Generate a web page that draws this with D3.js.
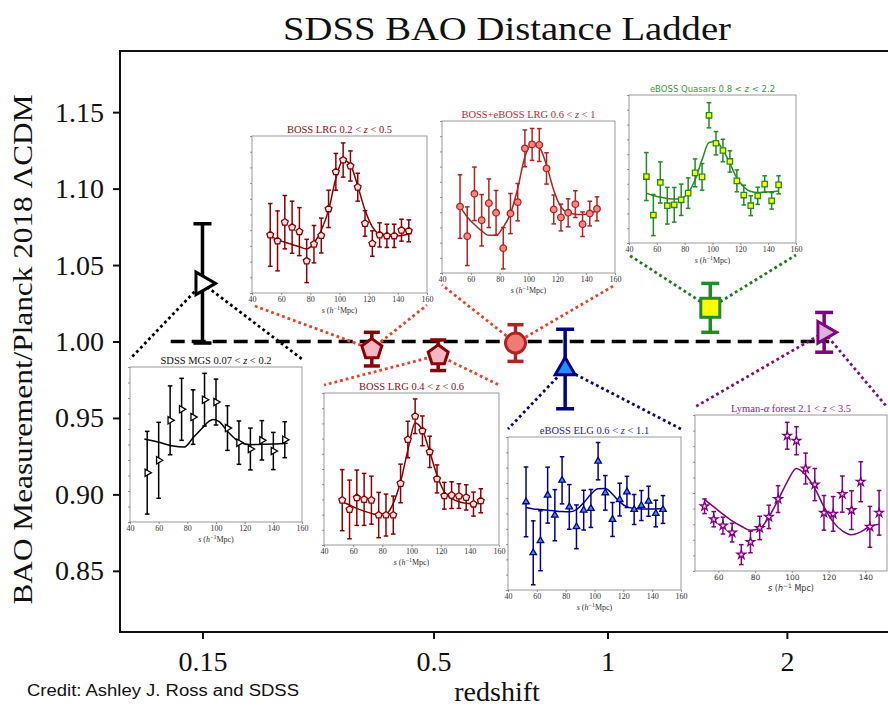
<!DOCTYPE html>
<html>
<head>
<meta charset="UTF-8">
<script src="https://d3js.org/d3.v7.min.js"></script>
<style>
  body { margin: 0; background: #fff; }
  svg { display: block; }
  .main-axis text { font-family: "Liberation Serif", serif; font-size: 28px; fill: #111; }
  .main-axis line { stroke: #111; stroke-width: 2; }
  .main-axis path { display: none; }
  .inset-axis text { font-family: "Liberation Serif", serif; font-size: 8px; fill: #333; }
  .inset-axis line { stroke: #777; stroke-width: 0.8; }
  .inset-axis path { display: none; }
</style>
</head>
<body>
<svg id="chart" width="888" height="709"></svg>
<script>
// ---- main ladder points ----
const surveys  = ["SDSS MGS", "BOSS LRG", "BOSS LRG", "BOSS+eBOSS LRG", "eBOSS ELG", "eBOSS Quasars", "Lyman-alpha"];
const zEff     = [0.15, 0.38, 0.51, 0.70, 0.85, 1.48, 2.33];
const baoRatio = [1.038, 0.995, 0.991, 0.999, 0.982, 1.022, 1.006];
const baoErr   = [0.039, 0.011, 0.010, 0.012, 0.026, 0.016, 0.013];
const yTicks   = [0.85, 0.90, 0.95, 1.00, 1.05, 1.10, 1.15];
const zTicks   = [0.15, 0.5, 1, 2];
const zTickLabels = ["0.15", "0.5", "1", "2"];
const refLineZ = [0.12, 2.38];

// ---- inset correlation functions (s^2 xi, arbitrary units) ----
const sBins = [52.5, 57.5, 62.5, 67.5, 72.5, 77.5, 82.5, 87.5, 92.5, 97.5, 102.5, 107.5, 112.5, 117.5, 122.5, 127.5, 132.5, 137.5, 142.5, 147.5];
const mgsS = [52, 60, 68, 76, 84, 92, 100, 108, 116, 124, 132, 140, 148];
const mgsModelS = [50, 60, 70, 78, 84, 90, 95, 98, 102, 108, 116, 124, 132, 140, 150];

const lrgLowXi    = [37.0, 33.2, 45.1, 41.9, 39.1, 20.4, 31.1, 36.6, 53.6, 77.2, 84.7, 80.9, 67.4, 44.3, 31.5, 37.0, 36.4, 36.4, 40.0, 39.6];
const lrgLowErr   = [20.0, 19.1, 17.0, 16.6, 15.3, 13.8, 11.9, 11.1, 11.9, 11.7, 10.9, 9.6, 8.9, 8.1, 8.1, 7.7, 7.4, 7.4, 7.0, 7.0];
const lrgLowModel = [36.2, 34.0, 32.3, 30.9, 29.4, 28.1, 31.9, 40.0, 52.8, 73.0, 84.7, 81.5, 68.1, 52.8, 42.1, 37.4, 36.2, 36.2, 36.6, 37.4];

const lrgMidXi    = [29.5, 23.4, 31.1, 30.0, 29.5, 19.7, 19.7, 19.7, 40.5, 69.4, 84.7, 75.1, 61.3, 43.5, 32.4, 32.8, 32.2, 31.3, 26.9, 29.1];
const lrgMidErr   = [20.1, 19.3, 18.2, 17.1, 15.8, 14.9, 13.8, 12.5, 12.7, 12.0, 11.4, 9.8, 10.3, 9.2, 8.8, 8.8, 8.1, 8.3, 7.9, 7.9];
const lrgMidModel = [28.4, 26.3, 24.1, 22.3, 20.8, 19.7, 20.4, 27.4, 41.6, 62.4, 80.3, 75.5, 61.3, 45.9, 35.0, 30.6, 28.4, 27.4, 26.9, 27.4];

const lrgHighXi    = [43.7, 24.2, 52.1, 34.7, 45.9, 39.6, 16.3, 39.1, 46.6, 82.0, 84.6, 84.2, 68.8, 41.8, 36.5, 39.6, 45.3, 32.1, 39.1, 42.2];
const lrgHighErr   = [20.9, 19.3, 17.6, 16.9, 16.0, 14.7, 13.6, 13.2, 12.3, 12.1, 10.5, 10.8, 10.3, 9.5, 8.8, 9.2, 8.8, 8.1, 8.1, 7.9];
const lrgHighModel = [43.7, 36.9, 31.9, 27.7, 24.8, 24.8, 30.3, 39.1, 55.6, 76.5, 84.6, 82.6, 71.0, 54.5, 43.5, 39.6, 38.7, 38.5, 39.1, 41.3];

const qsoXi    = [44.9, 18.9, 40.9, 25.2, 25.8, 29.2, 33.7, 47.4, 44.7, 86.3, 67.4, 62.5, 55.1, 42.0, 32.4, 25.2, 31.9, 39.8, 28.5, 39.3];
const qsoErr   = [16.2, 13.9, 13.9, 12.4, 11.7, 10.6, 10.3, 9.4, 9.0, 8.5, 7.9, 7.6, 7.2, 7.4, 6.7, 6.7, 5.8, 5.6, 5.6, 6.1];
const qsoModel = [33.7, 32.1, 31.0, 30.1, 29.7, 30.3, 33.7, 42.7, 56.2, 67.9, 68.5, 62.9, 53.9, 43.8, 37.8, 34.8, 34.2, 34.4, 34.6, 35.1];

const mgsXi    = [31.8, 39.8, 65.6, 72.7, 67.7, 78.9, 77.4, 60.6, 51.2, 47.1, 52.7, 45.8, 53.1];
const mgsErr   = [26.7, 24.5, 22.2, 20.0, 17.6, 17.0, 14.8, 14.4, 14.0, 13.5, 12.7, 12.0, 11.6];
const mgsModel = [53.5, 51.4, 49.0, 48.4, 54.4, 60.2, 64.9, 66.2, 64.9, 58.5, 51.8, 49.9, 50.1, 50.3, 50.8];

const elgXi    = [57.6, 24.3, 32.2, 62.0, 48.9, 71.7, 54.3, 41.3, 52.2, 53.3, 84.2, 63.5, 46.1, 59.1, 64.1, 52.6, 55.2, 58.0, 50.0, 52.6];
const elgErr   = [22.8, 20.9, 19.6, 18.3, 16.7, 15.4, 14.6, 14.3, 13.0, 12.4, 12.2, 11.3, 11.1, 10.7, 10.2, 9.8, 9.8, 9.8, 8.7, 9.1];
const elgModel = [53.9, 53.0, 52.6, 52.2, 51.7, 51.3, 51.1, 52.6, 57.0, 62.6, 66.1, 66.3, 62.6, 57.6, 54.3, 53.3, 53.0, 53.0, 53.0, 53.3];

const lyaXi    = [41.5, 33.2, 29.1, 24.6, 10.5, 18.6, 27.6, 34.7, 46.1, 86.7, 83.5, 65.7, 55.4, 37.3, 36.6, 49.3, 39.0, 57.2, 28.3, 37.3];
const lyaErr   = [4.7, 4.9, 5.4, 6.0, 6.4, 6.9, 7.5, 7.5, 8.6, 8.6, 9.0, 9.9, 10.3, 11.1, 11.1, 11.6, 12.4, 12.8, 13.1, 14.3];
const lyaModel = [45.8, 41.1, 36.4, 32.1, 28.7, 26.1, 27.2, 34.7, 45.4, 57.2, 65.7, 61.5, 52.9, 41.1, 31.5, 25.7, 23.3, 25.1, 28.7, 30.0];

const sTicks = [40, 60, 80, 100, 120, 140, 160];
const sTicksLya = [60, 80, 100, 120, 140];

// ---- scales ----
const svg = d3.select("#chart");
const plot = {left: 120, top: 51, right: 892, bottom: 632};

// x axis is linear in sqrt of comoving distance (flat LCDM, Om = 0.31)
function comoving(z) {
    const n = 400, dz = z / n;
    let sum = 0;
    for (let i = 0; i <= n; i++) {
        const w = (i === 0 || i === n) ? 0.5 : 1;
        sum += w / Math.sqrt(0.31 * Math.pow(1 + i * dz, 3) + 0.69);
    }
    return 2997.9 * sum * dz;
}
const sqrtD = z => Math.sqrt(comoving(z));
const xScale = d3.scaleLinear().domain([15.3, 67.0]).range([plot.left, plot.right]);
const xz = z => xScale(sqrtD(z));
const yScale = d3.scaleLinear().domain([0.81, 1.19]).range([plot.bottom, plot.top]);

// ---- marker shapes ----
function shapePath(kind, r) {
    const pts = [];
    if (kind === "pent") {
        for (let k = 0; k < 5; k++) {
            const a = -Math.PI / 2 + k * 2 * Math.PI / 5;
            pts.push([r * Math.cos(a), r * Math.sin(a)]);
        }
    } else if (kind === "triRight") {
        pts.push([r, 0], [-r * 0.5, -r * 0.866], [-r * 0.5, r * 0.866]);
    } else if (kind === "triUp") {
        pts.push([0, -r], [r * 0.866, r * 0.5], [-r * 0.866, r * 0.5]);
    } else if (kind === "square") {
        pts.push([-r, -r], [r, -r], [r, r], [-r, r]);
    } else if (kind === "circle") {
        return d3.symbol(d3.symbolCircle, Math.PI * r * r)();
    } else if (kind === "star") {
        return d3.symbol(d3.symbolStar, r * r * 1.6)();
    }
    return d3.line()(pts) + "Z";
}

const mainStyle = [
    {shape: "triRight", r: 13, fill: "#ffffff", stroke: "#000000", cap: 9},
    {shape: "pent", r: 10.5, fill: "#f7b6c3", stroke: "#8b0000", cap: 8},
    {shape: "pent", r: 10.5, fill: "#f7b6c3", stroke: "#8b0000", cap: 8},
    {shape: "circle", r: 10, fill: "#f07b72", stroke: "#b22222", cap: 8},
    {shape: "triUp", r: 11.5, fill: "#1f8fff", stroke: "#000080", cap: 9},
    {shape: "square", r: 9.5, fill: "#ffff00", stroke: "#228b22", cap: 9},
    {shape: "triRight", r: 12.5, fill: "#d9b3dc", stroke: "#800080", cap: 9}
];

// ---- inset panels ----
const insets = [
    {title: ["SDSS MGS 0.07 < ", "z", " < 0.2"], color: "#111111", s: mgsS, xi: mgsXi, err: mgsErr,
     modelS: mgsModelS, model: mgsModel, box: [130, 367, 302, 522], dom: [40, 160], ticks: sTicks,
     shape: "triRight", mr: 4.2, fill: "#ffffff", stroke: "#000000", point: 0, side: "top", link: "#000000"},
    {title: ["BOSS LRG 0.2 < ", "z", " < 0.5"], color: "#8b1010", s: sBins, xi: lrgLowXi, err: lrgLowErr,
     modelS: sBins, model: lrgLowModel, box: [252, 136, 427, 293], dom: [40, 160], ticks: sTicks,
     shape: "pent", mr: 3.6, fill: "#fde3e8", stroke: "#8b0000", point: 1, side: "bottom", link: "#e2452b"},
    {title: ["BOSS LRG 0.4 < ", "z", " < 0.6"], color: "#8b1010", s: sBins, xi: lrgMidXi, err: lrgMidErr,
     modelS: sBins, model: lrgMidModel, box: [324, 393, 499, 545], dom: [40, 160], ticks: sTicks,
     shape: "pent", mr: 3.6, fill: "#fde3e8", stroke: "#8b0000", point: 2, side: "top", link: "#e2452b"},
    {title: ["BOSS+eBOSS LRG 0.6 < ", "z", " < 1"], color: "#c0282d", s: sBins, xi: lrgHighXi, err: lrgHighErr,
     modelS: sBins, model: lrgHighModel, box: [442, 121, 615, 273], dom: [40, 160], ticks: sTicks,
     shape: "circle", mr: 3.3, fill: "#f4877f", stroke: "#b22222", point: 3, side: "bottom", link: "#e2452b"},
    {title: ["eBOSS ELG 0.6 < ", "z", " < 1.1"], color: "#1c1ca0", s: sBins, xi: elgXi, err: elgErr,
     modelS: sBins, model: elgModel, box: [508, 437, 681, 590], dom: [40, 160], ticks: sTicks,
     shape: "triUp", mr: 3.8, fill: "#3d8ef0", stroke: "#00008b", point: 4, side: "top", link: "#0a0a70"},
    {title: ["eBOSS Quasars 0.8 < ", "z", " < 2.2"], color: "#3b9a3b", sans: true, s: sBins, xi: qsoXi, err: qsoErr,
     modelS: sBins, model: qsoModel, box: [629, 95, 796, 243], dom: [40, 160], ticks: sTicks,
     shape: "square", mr: 2.7, fill: "#ffff00", stroke: "#228b22", point: 5, side: "bottom", link: "#1b7a1b"},
    {title: ["Lyman-", "α", " forest 2.1 < ", "z", " < 3.5"], color: "#8b1a8b", s: sBins, xi: lyaXi, err: lyaErr,
     modelS: sBins, model: lyaModel, box: [695, 415, 887, 571], dom: [47.3, 151.8], ticks: sTicksLya, sansTicks: true,
     shape: "star", mr: 3.8, fill: "#f0d0f0", stroke: "#800080", point: 6, side: "top", link: "#7a107a"}
];

// ---- frame and axes ----
svg.append("rect").attr("width", 888).attr("height", 709).attr("fill", "#fff");

svg.append("g")
    .attr("class", "main-axis")
    .attr("transform", "translate(" + plot.left + ",0)")
    .call(d3.axisLeft(yScale).tickValues(yTicks).tickFormat(d3.format(".2f")).tickSize(7).tickPadding(9));

svg.append("g")
    .attr("class", "main-axis")
    .attr("transform", "translate(0," + plot.bottom + ")")
    .call(d3.axisBottom(xScale).tickValues(zTicks.map(sqrtD)).tickFormat((d, i) => zTickLabels[i]).tickSize(7).tickPadding(12));

svg.append("rect")
    .attr("x", plot.left).attr("y", plot.top)
    .attr("width", plot.right - plot.left).attr("height", plot.bottom - plot.top)
    .attr("fill", "none").attr("stroke", "#111").attr("stroke-width", 2);

// reference line at ratio = 1
svg.append("line")
    .attr("x1", xz(refLineZ[0])).attr("x2", xz(refLineZ[1]))
    .attr("y1", yScale(1)).attr("y2", yScale(1))
    .attr("stroke", "#000").attr("stroke-width", 3.5).attr("stroke-dasharray", "14,7");

// ---- dotted connectors from points to insets ----
insets.forEach(ins => {
    const [x0, y0, x1, y1] = ins.box;
    const cy = ins.side === "top" ? y0 - 8 : y1 + 12;
    const px = xz(zEff[ins.point]), py = yScale(baoRatio[ins.point]);
    [x0, x1].forEach(cx => {
        svg.append("line")
            .attr("x1", px).attr("y1", py).attr("x2", cx).attr("y2", cy)
            .attr("stroke", ins.link).attr("stroke-width", 2.8)
            .attr("stroke-dasharray", "2.8,3");
    });
});

// ---- insets ----
function drawInset(ins) {
    const [x0, y0, x1, y1] = ins.box;
    const g = svg.append("g");
    const sx = d3.scaleLinear().domain(ins.dom).range([x0, x1]);
    const sy = d3.scaleLinear().domain([0, 100]).range([y1, y0]);

    g.append("rect")
        .attr("x", x0).attr("y", y0).attr("width", x1 - x0).attr("height", y1 - y0)
        .attr("fill", "#fff").attr("stroke", "#999").attr("stroke-width", 1);

    const ax = g.append("g")
        .attr("class", "inset-axis")
        .attr("transform", "translate(0," + y1 + ")")
        .call(d3.axisBottom(sx).tickValues(ins.ticks).tickSize(2).tickPadding(1.5));
    if (ins.sansTicks) ax.selectAll("text").style("font-family", "'DejaVu Sans', sans-serif").style("font-size", "7.5px");

    g.append("g")
        .attr("class", "inset-axis")
        .attr("transform", "translate(" + x0 + ",0)")
        .call(d3.axisLeft(sy).ticks(10).tickSize(2).tickFormat(""));

    // x label: s (h^-1 Mpc)
    const xl = g.append("text")
        .attr("x", (x0 + x1) / 2).attr("y", y1 + 20)
        .attr("text-anchor", "middle")
        .style("font-family", ins.sansTicks ? "'DejaVu Sans', sans-serif" : "'Liberation Serif', serif")
        .style("font-size", "8px").attr("fill", "#333");
    xl.append("tspan").attr("font-style", "italic").text("s");
    xl.append("tspan").text(" (");
    xl.append("tspan").attr("font-style", "italic").text("h");
    xl.append("tspan").attr("dy", -3).attr("font-size", "6px").text("−1");
    xl.append("tspan").attr("dy", 3).text(ins.sansTicks ? " Mpc)" : "Mpc)");

    // model curve
    g.append("path")
        .datum(d3.zip(ins.modelS, ins.model))
        .attr("d", d3.line().x(d => sx(d[0])).y(d => sy(d[1])).curve(d3.curveMonotoneX))
        .attr("fill", "none").attr("stroke", ins.stroke).attr("stroke-width", 1.5);

    // error bars
    const pts = d3.zip(ins.s, ins.xi, ins.err);
    const eb = g.append("g").attr("stroke", ins.stroke).attr("stroke-width", 1.5);
    pts.forEach(([s, v, e]) => {
        const x = sx(s);
        eb.append("line").attr("x1", x).attr("x2", x).attr("y1", sy(v - e)).attr("y2", sy(v + e));
        eb.append("line").attr("x1", x - 2.3).attr("x2", x + 2.3).attr("y1", sy(v - e)).attr("y2", sy(v - e));
        eb.append("line").attr("x1", x - 2.3).attr("x2", x + 2.3).attr("y1", sy(v + e)).attr("y2", sy(v + e));
    });

    g.selectAll("path.pt")
        .data(pts)
        .join("path")
        .attr("class", "pt")
        .attr("d", shapePath(ins.shape, ins.mr))
        .attr("transform", d => "translate(" + sx(d[0]) + "," + sy(d[1]) + ")")
        .attr("fill", ins.fill).attr("stroke", ins.stroke).attr("stroke-width", 1.3);

    // title
    const t = g.append("text")
        .attr("x", (x0 + Math.min(x1, 888)) / 2).attr("y", y0 - 3)
        .attr("text-anchor", "middle")
        .style("font-family", ins.sans ? "'DejaVu Sans', sans-serif" : "'Liberation Serif', serif")
        .style("font-size", ins.sans ? "8.5px" : "10.5px")
        .attr("fill", ins.color);
    ins.title.forEach(part => {
        t.append("tspan").attr("font-style", (part === "z" || part === "α") ? "italic" : null).text(part);
    });
}
insets.forEach(drawInset);

// ---- main error bars and markers ----
zEff.forEach((z, i) => {
    const st = mainStyle[i];
    const x = xz(z);
    const lo = yScale(baoRatio[i] - baoErr[i]), hi = yScale(baoRatio[i] + baoErr[i]);
    const g = svg.append("g").attr("stroke", st.stroke).attr("stroke-width", 3.5);
    g.append("line").attr("x1", x).attr("x2", x).attr("y1", lo).attr("y2", hi);
    g.append("line").attr("x1", x - st.cap).attr("x2", x + st.cap).attr("y1", lo).attr("y2", lo);
    g.append("line").attr("x1", x - st.cap).attr("x2", x + st.cap).attr("y1", hi).attr("y2", hi);
    svg.append("path")
        .attr("d", shapePath(st.shape, st.r))
        .attr("transform", "translate(" + x + "," + yScale(baoRatio[i]) + ")")
        .attr("fill", st.fill).attr("stroke", st.stroke).attr("stroke-width", 3);
});

// ---- titles and labels ----
svg.append("text")
    .attr("x", 507).attr("y", 40)
    .attr("text-anchor", "middle")
    .attr("textLength", 448).attr("lengthAdjust", "spacingAndGlyphs")
    .style("font-family", "'Liberation Serif', serif").style("font-size", "34px")
    .attr("fill", "#111")
    .text("SDSS BAO Distance Ladder");

svg.append("text")
    .attr("transform", "translate(32," + ((plot.top + plot.bottom) / 2 + 8) + ") rotate(-90)")
    .attr("text-anchor", "middle")
    .attr("textLength", 510).attr("lengthAdjust", "spacingAndGlyphs")
    .style("font-family", "'Liberation Serif', serif").style("font-size", "27px")
    .attr("fill", "#111")
    .text("BAO Measurement/Planck 2018 ΛCDM");

svg.append("text")
    .attr("x", 497).attr("y", 701)
    .attr("text-anchor", "middle")
    .style("font-family", "'Liberation Serif', serif").style("font-size", "28px")
    .attr("fill", "#111")
    .text("redshift");

svg.append("text")
    .attr("x", 27).attr("y", 696)
    .attr("textLength", 272).attr("lengthAdjust", "spacingAndGlyphs")
    .style("font-family", "'Liberation Sans', Arial, sans-serif").style("font-size", "16px")
    .attr("fill", "#111")
    .text("Credit: Ashley J. Ross and SDSS");
</script>
</body>
</html>
